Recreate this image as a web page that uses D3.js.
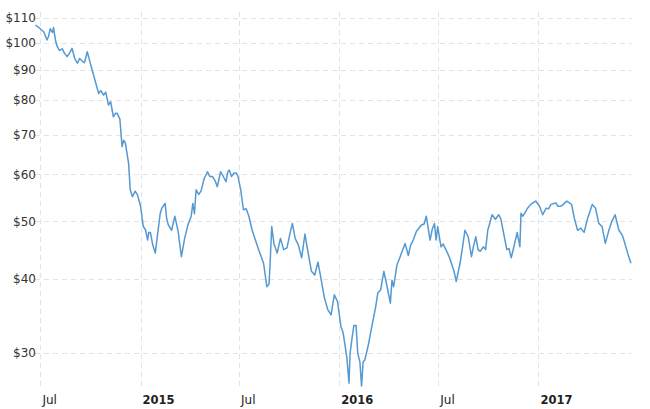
<!DOCTYPE html>
<html>
<head>
<meta charset="utf-8">
<script src="https://cdn.jsdelivr.net/npm/d3@7"></script>
<style>
  html, body { margin: 0; padding: 0; background: #fff; }
  svg { display: block; }
</style>
</head>
<body>
<svg id="chart" width="650" height="409"></svg>
<script>
// ---- data ----
const dates = [
"2014-06-22","2014-06-27","2014-07-03","2014-07-07","2014-07-13","2014-07-16","2014-07-19","2014-07-23","2014-07-25","2014-07-29",
"2014-08-01","2014-08-05","2014-08-10","2014-08-14","2014-08-19","2014-08-24","2014-08-28","2014-09-02","2014-09-07","2014-09-11",
"2014-09-16","2014-09-20","2014-09-25","2014-09-29","2014-10-04","2014-10-10","2014-10-16","2014-10-20","2014-10-25","2014-10-29",
"2014-11-03","2014-11-07","2014-11-12","2014-11-16","2014-11-19","2014-11-24","2014-11-28","2014-12-01","2014-12-04","2014-12-10",
"2014-12-13","2014-12-17","2014-12-22","2014-12-26","2015-01-01","2015-01-06","2015-01-10","2015-01-14","2015-01-16","2015-01-19",
"2015-01-23","2015-01-28","2015-02-03","2015-02-06","2015-02-09","2015-02-15","2015-02-18","2015-02-21","2015-02-27","2015-03-05",
"2015-03-11","2015-03-17","2015-03-23","2015-03-29","2015-04-04","2015-04-07","2015-04-10","2015-04-13","2015-04-18","2015-04-22",
"2015-04-28","2015-05-04","2015-05-08","2015-05-13","2015-05-18","2015-05-22","2015-05-28","2015-06-02","2015-06-07","2015-06-10",
"2015-06-13","2015-06-17","2015-06-22","2015-06-26","2015-06-29","2015-07-04","2015-07-09","2015-07-14","2015-07-19","2015-07-25",
"2015-07-31","2015-08-06","2015-08-11","2015-08-15","2015-08-21","2015-08-25","2015-08-27","2015-08-30","2015-09-03","2015-09-09",
"2015-09-15","2015-09-21","2015-09-27","2015-10-03","2015-10-07","2015-10-12","2015-10-18","2015-10-24","2015-10-30","2015-11-05",
"2015-11-11","2015-11-17","2015-11-23","2015-11-29","2015-12-05","2015-12-11","2015-12-17","2015-12-23","2015-12-29","2016-01-04",
"2016-01-08","2016-01-12","2016-01-15","2016-01-19","2016-01-21","2016-01-25","2016-01-28","2016-02-01","2016-02-04","2016-02-08",
"2016-02-11","2016-02-14","2016-02-17","2016-02-23","2016-03-01","2016-03-08","2016-03-12","2016-03-17","2016-03-23","2016-03-29",
"2016-04-04","2016-04-07","2016-04-10","2016-04-16","2016-04-22","2016-05-01","2016-05-07","2016-05-11","2016-05-16","2016-05-22",
"2016-05-31","2016-06-05","2016-06-09","2016-06-16","2016-06-20","2016-06-24","2016-06-27","2016-06-30","2016-07-06","2016-07-10",
"2016-07-15","2016-07-21","2016-07-25","2016-07-30","2016-08-03","2016-08-10","2016-08-15","2016-08-19","2016-08-25","2016-08-31",
"2016-09-04","2016-09-08","2016-09-12","2016-09-16","2016-09-22","2016-09-26","2016-09-30","2016-10-08","2016-10-14","2016-10-20",
"2016-10-24","2016-10-28","2016-11-04","2016-11-08","2016-11-12","2016-11-17","2016-11-23","2016-11-28","2016-11-30","2016-12-03",
"2016-12-07","2016-12-12","2016-12-18","2016-12-27","2017-01-03","2017-01-09","2017-01-15","2017-01-20","2017-01-24","2017-02-02",
"2017-02-06","2017-02-11","2017-02-16","2017-02-22","2017-03-03","2017-03-08","2017-03-14","2017-03-20","2017-03-26","2017-04-01",
"2017-04-10","2017-04-16","2017-04-22","2017-04-28","2017-05-04","2017-05-10","2017-05-16","2017-05-22","2017-05-29","2017-06-04",
"2017-06-08","2017-06-14","2017-06-20"
];
const prices = [
107.0,106.2,105.0,104.3,101.0,102.5,105.5,104.0,106.0,100.5,
98.4,97.0,97.6,96.0,94.7,96.2,97.8,94.0,92.3,94.0,
93.0,92.5,96.5,93.5,89.9,85.9,82.1,83.0,81.6,82.5,
78.5,79.5,75.0,76.0,76.0,74.3,66.8,68.5,67.8,62.6,
56.5,55.0,56.2,55.5,53.0,49.0,48.4,46.5,47.9,47.9,
45.8,44.2,49.0,51.5,52.6,53.6,50.5,49.3,48.3,51.0,
48.1,43.6,46.8,49.3,51.0,53.6,51.5,56.5,55.5,56.2,
59.1,60.6,59.5,59.5,58.5,57.2,60.6,59.5,58.3,60.5,
61.0,59.5,60.3,60.3,59.5,56.5,52.3,52.5,51.0,48.3,
46.5,44.8,43.5,42.5,38.8,39.2,42.5,49.0,45.9,44.2,
46.8,44.8,45.1,47.9,49.6,46.8,45.6,43.4,47.6,44.2,
41.2,40.6,42.7,39.8,37.1,35.5,34.8,37.6,36.6,33.3,
32.5,30.8,29.5,26.7,30.0,32.0,33.4,33.4,30.0,29.0,
26.4,29.0,29.2,30.8,33.3,35.9,37.9,38.3,41.2,38.8,
36.4,39.8,38.8,42.2,43.6,45.9,43.8,45.5,46.5,48.1,
49.3,49.5,51.0,46.5,48.5,49.6,46.5,49.0,45.3,45.8,
44.8,43.6,42.5,41.2,39.6,42.5,45.5,48.3,47.1,43.6,
45.5,47.1,44.8,44.5,45.3,44.8,48.3,51.3,50.4,51.3,
50.5,48.3,44.8,45.0,43.4,45.3,47.9,45.3,51.6,51.0,
51.6,52.6,53.4,54.1,53.0,51.3,52.6,52.5,53.4,53.7,
53.0,53.0,53.4,54.1,53.4,50.6,48.3,48.7,47.9,50.4,
53.4,52.6,49.6,49.0,45.9,48.1,50.0,51.3,48.3,47.4,
46.2,44.2,42.5
];
const yTicks = [30, 40, 50, 60, 70, 80, 90, 100, 110];
const xTickDates = ["2014-07-01","2015-01-01","2015-07-01","2016-01-01","2016-07-01","2017-01-01"];
const xTickLabels = ["Jul","2015","Jul","2016","Jul","2017"];
const xTickBold = [false, true, false, true, false, true];

// ---- chart ----
(function () {
const parse = d3.timeParse("%Y-%m-%d");
const data = dates.map((d, i) => ({ date: parse(d), value: prices[i] }));

const svg = d3.select("#chart");
const pL = 35, pR = 632, pT = 18, pB = 388;

const x = d3.scaleTime()
  .domain([parse("2014-06-21"), parse("2017-06-22")])
  .range([pL, pR]);
const y = d3.scaleLog()
  .domain([26.2, 110])
  .range([pB, pT]);

const grid = svg.append("g");
grid.selectAll("line.h").data(yTicks).enter().append("line")
  .attr("x1", pL).attr("x2", pR)
  .attr("y1", d => Math.round(y(d)) + 0.5).attr("y2", d => Math.round(y(d)) + 0.5)
  .attr("stroke", "#e3e3e3").attr("stroke-width", 1).attr("stroke-dasharray", "5,4");
grid.selectAll("line.v").data(xTickDates).enter().append("line")
  .attr("x1", d => Math.round(x(parse(d))) + 0.5).attr("x2", d => Math.round(x(parse(d))) + 0.5)
  .attr("y1", pT - 6).attr("y2", pB)
  .attr("stroke", "#e3e3e3").attr("stroke-width", 1).attr("stroke-dasharray", "5,4");

svg.append("g").selectAll("text").data(yTicks).enter().append("text")
  .attr("x", pL + 1).attr("y", d => y(d))
  .attr("dy", "0.35em")
  .attr("text-anchor", "end")
  .attr("font-family", "DejaVu Sans, Verdana, sans-serif")
  .attr("font-size", 12)
  .attr("fill", "#333")
  .text(d => "$" + d);

svg.append("g").selectAll("text").data(xTickDates).enter().append("text")
  .attr("x", d => x(parse(d)) + 2).attr("y", 404)
  .attr("text-anchor", "start")
  .attr("font-family", "DejaVu Sans, Verdana, sans-serif")
  .attr("font-size", (d, i) => xTickBold[i] ? 11.5 : 12)
  .attr("font-weight", (d, i) => xTickBold[i] ? "bold" : "normal")
  .attr("fill", "#222")
  .text((d, i) => xTickLabels[i]);

const line = d3.line().x(d => x(d.date)).y(d => y(d.value));
svg.append("path").datum(data)
  .attr("d", line)
  .attr("fill", "none")
  .attr("stroke", "#5599d2")
  .attr("stroke-width", 1.5)
  .attr("stroke-linejoin", "round");
})();
</script>
</body>
</html>
